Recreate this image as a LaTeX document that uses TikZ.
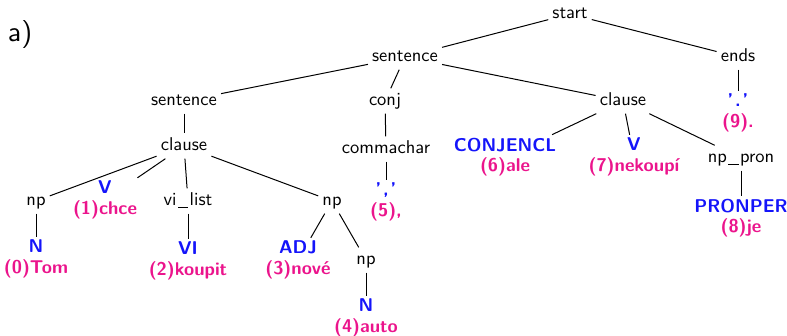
\documentclass[tikz,border=0pt]{standalone}
\usepackage{fontspec}
\setsansfont{lmsans10-regular.otf}[BoldFont=lmsans10-bold.otf]
\usepackage{xcolor}
\definecolor{catblue}{RGB}{20,20,250}
\definecolor{wordpink}{RGB}{235,20,140}
\newcommand{\tmc}[2]{\textcolor{catblue}{#1}\\\textcolor{wordpink}{#2}}
\newcommand{\usc}{\kern0.08em\rule[-0.12em]{0.55em}{0.06em}\kern0.08em}
\tikzset{
  nt/.style={font=\sffamily\fontsize{18.5}{20.5}\selectfont, inner sep=4pt, text height=13pt, text depth=4pt},
  tm/.style={font=\sffamily\bfseries\fontsize{18.5}{20.5}\selectfont, align=center, inner sep=3pt},
  edge/.style={draw=black, line width=1pt}
}
\begin{document}
\begin{tikzpicture}[x=1pt,y=-1pt]
\useasboundingbox (0,0) rectangle (787,336);
\node[font=\sffamily\fontsize{28}{30}\selectfont, inner sep=0pt] (lbl) at (20,35) {a)};
% nonterminals
\node[nt] (start) at (570,14) {start};
\node[nt] (s1) at (405,57) {sentence};
\node[nt] (ends) at (738,57) {ends};
\node[nt] (s2) at (184,101) {sentence};
\node[nt] (conj) at (385,101) {conj};
\node[nt] (cl1) at (623,101) {clause};
\node[nt] (cl2) at (184,146) {clause};
\node[nt] (cc) at (386,149) {commachar};
\node[nt] (nppron) at (741,158) {np\usc pron};
\node[nt] (np1) at (36,201) {np};
\node[nt] (vil) at (188,201) {vi\usc list};
\node[nt] (np2) at (332,201) {np};
\node[nt] (np3) at (366,260) {np};
% terminals
\node[tm] (dot9) at (738,113) {\tmc{'\kern0.1em.\kern0.1em'}{(9).}};
\node[tm] (comma5) at (386,202) {\tmc{'\kern0.1em,\kern0.1em'}{(5),}};
\node[tm] (conjencl) at (505,157) {\tmc{CONJENCL}{(6)ale}};
\node[tm] (v7) at (634,157) {\tmc{V}{(7)nekoupí}};
\node[tm] (pronper) at (741,218) {\tmc{PRONPER}{(8)je}};
\node[tm] (v1) at (105,200) {\tmc{V}{(1)chce}};
\node[tm] (n0) at (36,259) {\tmc{N}{(0)Tom}};
\node[tm] (vi2) at (188,261) {\tmc{VI}{(2)koupit}};
\node[tm] (adj3) at (298,260) {\tmc{ADJ}{(3)nové}};
\node[tm] (n4) at (366,318) {\tmc{N}{(4)auto}};
% edges
\draw[edge] (start) -- (s1);
\draw[edge] (start) -- (ends);
\draw[edge] (s1) -- (s2);
\draw[edge] (s1) -- (conj);
\draw[edge] (s1) -- (cl1);
\draw[edge] (ends) -- (dot9);
\draw[edge] (s2) -- (cl2);
\draw[edge] (conj) -- (cc);
\draw[edge] (cc) -- (comma5);
\draw[edge] (cl1) -- (conjencl);
\draw[edge] (cl1) -- (v7);
\draw[edge] (cl1) -- (nppron);
\draw[edge] (nppron) -- (pronper);
\draw[edge] (cl2) -- (np1);
\draw[edge] (cl2) -- (v1);
\draw[edge] (cl2) -- (vil);
\draw[edge] (cl2) -- (np2);
\draw[edge] (np1) -- (n0);
\draw[edge] (vil) -- (vi2);
\draw[edge] (np2) -- (adj3);
\draw[edge] (np2) -- (np3);
\draw[edge] (np3) -- (n4);
\end{tikzpicture}
\end{document}
